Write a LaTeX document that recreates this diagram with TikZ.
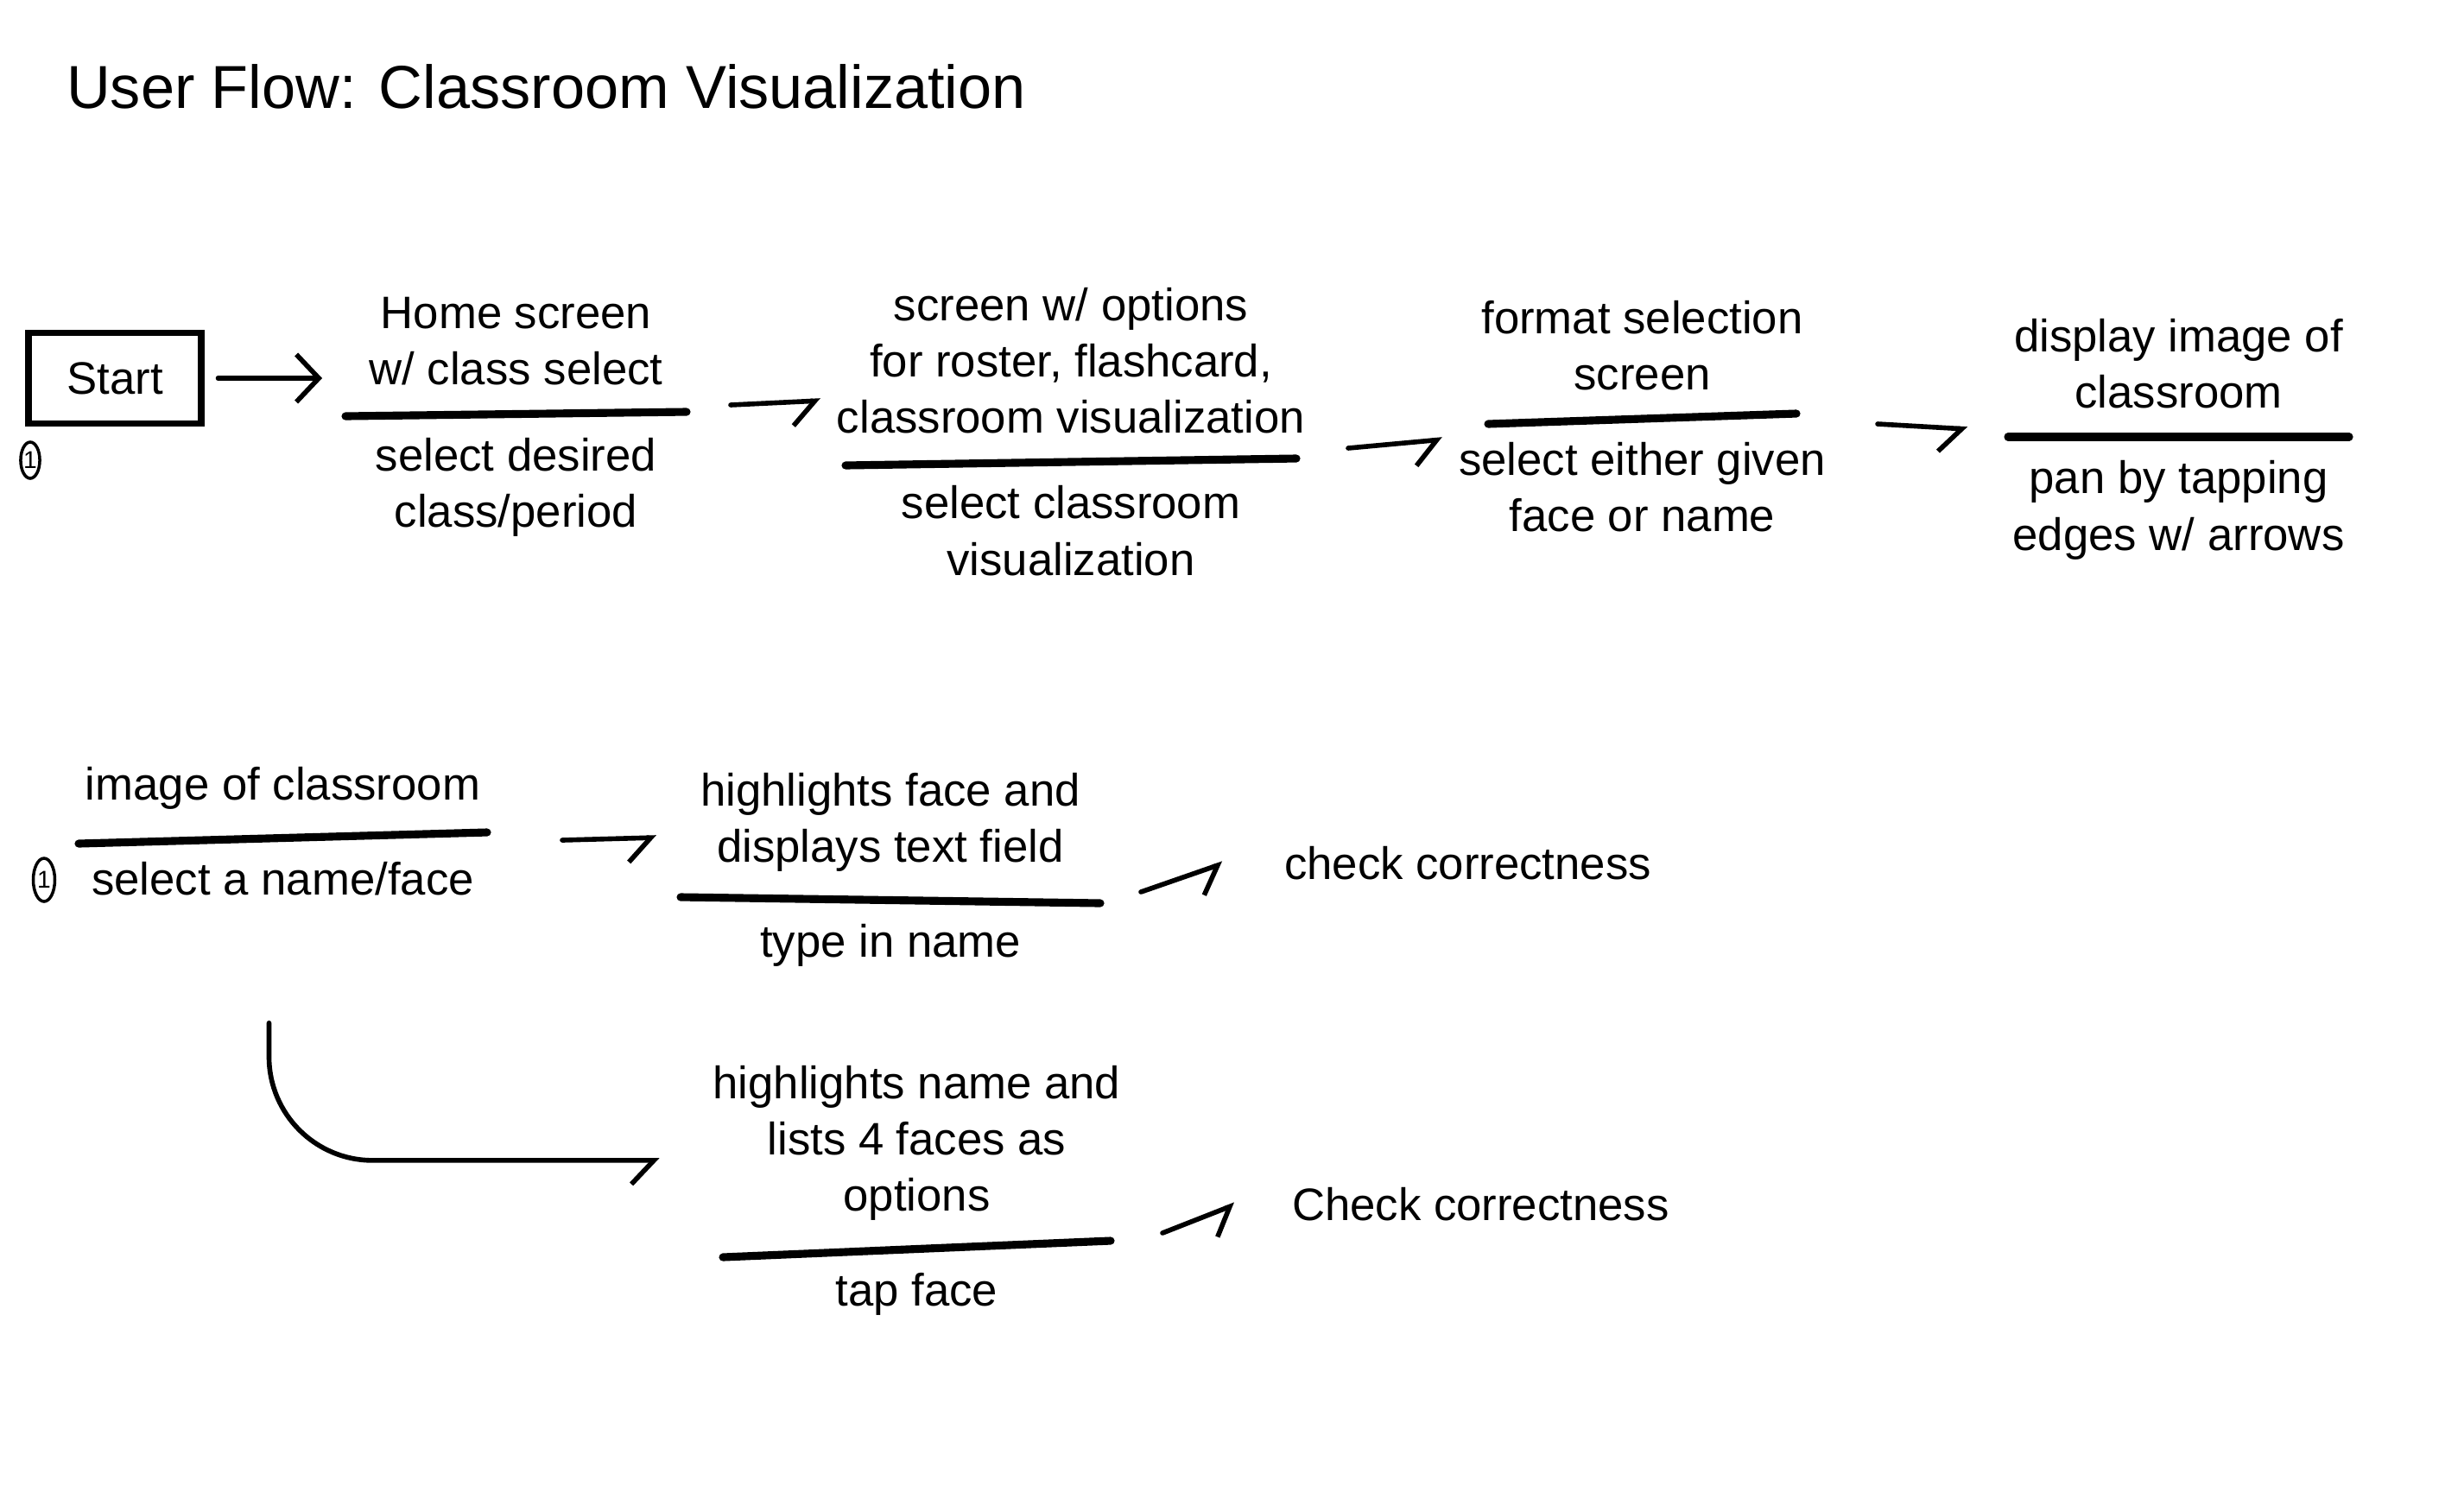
\documentclass[tikz,border=0pt]{standalone}
\usepackage{fontspec}
\setmainfont{Liberation Sans}
\usetikzlibrary{calc,positioning,arrows.meta,shapes.geometric}

\tikzset{
    hand/.style={font=\fontsize{15}{18.5}\selectfont, align=center},
    uptext/.style={hand, anchor=south, inner xsep=3pt, inner ysep=9pt},
    lowtext/.style={hand, anchor=north, inner xsep=3pt, inner ysep=7.5pt},
    rule/.style={line width=2.6pt, line cap=round},
    flow/.style={-{Straight Barb[right, length=2.6mm, width=5.5mm]}, line width=1.6pt, line cap=round},
    stepno/.style={ellipse, draw, line width=1pt, inner sep=0pt, font=\fontsize{8}{8}\selectfont}
}

\begin{document}
\begin{tikzpicture}[>=stealth, thick]

    \useasboundingbox (0,0) rectangle (28.53,-17.2);

    % --- Title ---
    \node[anchor=west, font=\fontsize{20}{24}\selectfont] (title) at (0.64,-1.0) {User Flow: Classroom Visualization};

    % --- Coordinates (ends of the divider rules) ---
    \coordinate (home-l) at (4.00,-4.82);
    \coordinate (home-r) at (7.95,-4.77);
    \coordinate (opts-l) at (9.79,-5.39);
    \coordinate (opts-r) at (15.01,-5.31);
    \coordinate (fmt-l)  at (17.23,-4.91);
    \coordinate (fmt-r)  at (20.80,-4.79);
    \coordinate (disp-l) at (23.25,-5.06);
    \coordinate (disp-r) at (27.20,-5.06);
    \coordinate (img-l)  at (0.91,-9.77);
    \coordinate (img-r)  at (5.64,-9.64);
    \coordinate (hface-l) at (7.88,-10.39);
    \coordinate (hface-r) at (12.74,-10.46);
    \coordinate (hname-l) at (8.37,-14.56);
    \coordinate (hname-r) at (12.86,-14.37);

    % --- Divider rules ---
    \foreach \s in {home,opts,fmt,disp,img,hface,hname}
        \draw[rule] (\s-l) -- (\s-r);

    % --- Start ---
    \node[draw, line width=2pt, minimum width=2cm, minimum height=1.05cm, hand] (start) at (1.33,-4.38) {Start};
    \node[stepno, minimum width=0.2cm, minimum height=0.42cm] (one-a) at (0.35,-5.33) {1};

    % --- Row 1: screens ---
    \node[uptext] (home) at ($(home-l)!0.5!(home-r)$) {Home screen\\w/ class select};
    \node[lowtext] (home-b) at ($(home-l)!0.5!(home-r)$) {select desired\\class/period};

    \node[uptext] (opts) at ($(opts-l)!0.5!(opts-r)$) {screen w/ options\\for roster, flashcard,\\classroom visualization};
    \node[lowtext] (opts-b) at ($(opts-l)!0.5!(opts-r)$) {select classroom\\visualization};

    \node[uptext] (fmt) at ($(fmt-l)!0.5!(fmt-r)$) {format selection\\screen};
    \node[lowtext] (fmt-b) at ($(fmt-l)!0.5!(fmt-r)$) {select either given\\face or name};

    \node[uptext] (disp) at ($(disp-l)!0.5!(disp-r)$) {display image of\\classroom};
    \node[lowtext] (disp-b) at ($(disp-l)!0.5!(disp-r)$) {pan by tapping\\edges w/ arrows};

    % --- Row 2: name / face quiz ---
    \node[stepno, minimum width=0.25cm, minimum height=0.5cm] (one-b) at (0.51,-10.19) {1};

    \node[uptext] (img) at ($(img-l)!0.5!(img-r)$) {image of classroom};
    \node[lowtext] (img-b) at ($(img-l)!0.5!(img-r)$) {select a name/face};

    \node[uptext] (hface) at ($(hface-l)!0.5!(hface-r)$) {highlights face and\\displays text field};
    \node[lowtext] (hface-b) at ($(hface-l)!0.5!(hface-r)$) {type in name};

    \node[uptext] (hname) at ($(hname-l)!0.5!(hname-r)$) {highlights name and\\lists 4 faces as\\options};
    \node[lowtext] (hname-b) at ($(hname-l)!0.5!(hname-r)$) {tap face};

    \node[hand, anchor=west] (check-a) at (14.74,-10.0) {check correctness};
    \node[hand, anchor=west] (check-b) at (14.83,-13.95) {Check correctness};

    % --- Arrows ---
    \draw[flow, -{Straight Barb[length=2.6mm, width=5.5mm]}] ([xshift=1.6mm]start.east) -- ([xshift=-2.7mm]start.east -| home-l);
    \draw[flow] ([shift={(0.51,0.08)}]home-r) -- ([shift={(-0.29,0.75)}]opts-l);
    \draw[flow] ([shift={(0.60,0.12)}]opts-r) -- ([shift={(-0.53,-0.18)}]fmt-l);
    \draw[flow] ([shift={(0.94,-0.12)}]fmt-r) -- ([shift={(-0.47,0.09)}]disp-l);
    \draw[flow] ([shift={(0.87,-0.09)}]img-r) -- ([shift={(-0.28,0.69)}]hface-l);
    \draw[flow] ([shift={(0.47,0.13)}]hface-r) -- ([xshift=-5.8mm]check-a.west);
    \draw[flow, rounded corners=1.2cm] ([xshift=-1.6mm, yshift=-12mm]img-b.south) |- ([xshift=-5mm, yshift=-2mm]hname.west);
    \draw[flow] ([shift={(0.60,0.09)}]hname-r) -- ([xshift=-5.3mm]check-b.west);

\end{tikzpicture}
\end{document}
